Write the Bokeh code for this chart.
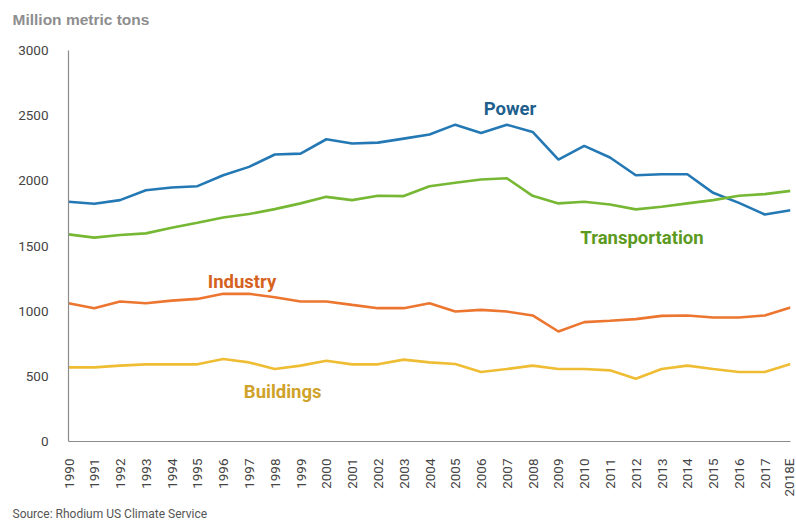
import math
from bokeh.plotting import figure
from bokeh.models import FixedTicker, Range1d, ColumnDataSource, Title
from bokeh.core.properties import value
from bokeh.embed import file_html
from bokeh.resources import INLINE

years = ["1990", "1991", "1992", "1993", "1994", "1995", "1996", "1997", "1998",
         "1999", "2000", "2001", "2002", "2003", "2004", "2005", "2006", "2007",
         "2008", "2009", "2010", "2011", "2012", "2013", "2014", "2015", "2016",
         "2017", "2018E"]

power = [1839, 1824, 1852, 1928, 1949, 1959, 2043, 2107, 2202, 2209, 2319, 2286,
         2293, 2324, 2355, 2431, 2367, 2431, 2375, 2163, 2268, 2179, 2043, 2051,
         2051, 1908, 1831, 1742, 1775]
transportation = [1589, 1564, 1584, 1597, 1640, 1678, 1719, 1745, 1783, 1827, 1877,
                  1852, 1885, 1883, 1959, 1985, 2010, 2020, 1885, 1827, 1839, 1819,
                  1781, 1801, 1827, 1852, 1885, 1898, 1923]
industry = [1061, 1023, 1074, 1061, 1081, 1094, 1133, 1133, 1107, 1074, 1074, 1048,
            1023, 1023, 1061, 997, 1010, 997, 967, 844, 916, 926, 939, 964, 967,
            951, 951, 967, 1028]
buildings = [569, 569, 582, 592, 592, 592, 633, 607, 556, 582, 620, 592, 592, 628,
             607, 595, 533, 556, 582, 556, 556, 546, 482, 556, 582, 556, 533, 533, 595]

series_names = ["Power", "Transportation", "Industry", "Buildings"]
line_colors = ["#2479b5", "#76b833", "#ec7630", "#efbd34"]
label_colors = ["#1f5f8e", "#5c9a22", "#d5631f", "#cfa229"]
# label anchors (x in year index, y in data units)
label_x = [16.1, 19.85, 5.4, 6.8]
label_y = [2548, 1561, 1227, 383]

y_ticks = [0, 500, 1000, 1500, 2000, 2500, 3000]

FONT = "Roboto"

idx = list(range(len(years)))

p = figure(width=796, height=520, output_backend="svg", toolbar_location=None,
           x_range=Range1d(0, len(years) - 1), y_range=Range1d(0, 3000),
           min_border_left=68, min_border_right=6, min_border_top=50,
           min_border_bottom=78)
p.outline_line_color = None
p.grid.grid_line_color = None
p.background_fill_color = "white"
p.border_fill_color = "white"

for vals, col in zip([power, transportation, industry, buildings], line_colors):
    p.line(idx, vals, line_width=2.6, line_color=col)

src = ColumnDataSource(dict(x=label_x, y=label_y, t=series_names, c=label_colors))
p.text(x="x", y="y", text="t", text_color="c", source=src,
       text_font=value(FONT), text_font_size="18.5px", text_font_style="bold",
       text_baseline="alphabetic", text_align="left")

p.yaxis.ticker = FixedTicker(ticks=y_ticks)
p.yaxis.axis_line_color = "#8c8c8c"
p.yaxis.axis_line_width = 1.2
p.yaxis.major_tick_line_color = None
p.yaxis.minor_tick_line_color = None
p.yaxis.major_label_standoff = 14
p.yaxis.major_label_text_font = FONT
p.yaxis.major_label_text_font_size = "13.5px"
p.yaxis.major_label_text_color = "#444444"

p.xaxis.ticker = FixedTicker(ticks=idx)
p.xaxis.major_label_overrides = {i: y for i, y in zip(idx, years)}
p.xaxis.major_label_orientation = math.pi / 2
p.xaxis.axis_line_color = "#8c8c8c"
p.xaxis.axis_line_width = 1.2
p.xaxis.major_tick_line_color = None
p.xaxis.minor_tick_line_color = None
p.xaxis.major_label_standoff = 11
p.xaxis.major_label_text_font = FONT
p.xaxis.major_label_text_font_size = "13.5px"
p.xaxis.major_label_text_color = "#444444"

# top: a blank spacer panel next to the frame, then the chart title above it
top_spacer = Title(text=" ", text_font_size="10px", standoff=10)
title = Title(text="Million metric tons", align="left", offset=-56,
              text_font="Liberation Sans", text_font_size="15.5px",
              text_font_style="bold", text_color="#8e8e8e", standoff=0)
p.add_layout(top_spacer, "above")
p.add_layout(title, "above")

# bottom: a thin spacer under the x axis, then the source note
bottom_spacer = Title(text=" ", text_font_size="3px", standoff=0)
source = Title(text="Source: Rhodium US Climate Service", align="left", offset=-56,
               text_font=FONT, text_font_size="12px", text_font_style="normal",
               text_color="#555555", standoff=0)
p.add_layout(bottom_spacer, "below")
p.add_layout(source, "below")

open("out.html", "w").write(file_html(p, INLINE))
